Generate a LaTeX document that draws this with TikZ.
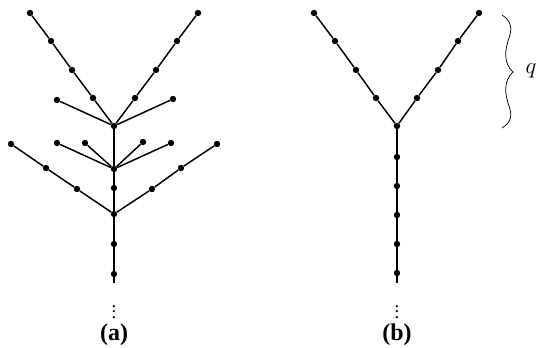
\documentclass[tikz,border=0pt]{standalone}
\usepackage{fontspec}
\setmainfont{Liberation Serif}
\begin{document}
\begin{tikzpicture}[x=0.75pt,y=-0.75pt,
  vtx/.style={circle,fill=black,inner sep=0pt,minimum size=4.8pt},
  edge/.style={line width=1.1pt},
  lbl/.style={font=\fontsize{18}{20}\selectfont\bfseries},
  brace/.style={line width=0.55pt},
  cont/.style={font=\fontsize{14}{16}\selectfont,inner sep=0pt}]
\useasboundingbox (0,0) rectangle (538,347);
% ---------- (a) ----------
\node[vtx] (ah1) at (114,126) {};
\node[vtx] (ah2) at (114,169) {};
\node[vtx] (am) at (114,188) {};
\node[vtx] (ah3) at (114,214) {};
\node[vtx] (ab1) at (114,244) {};
\node[vtx] (ab2) at (114,274) {};
\coordinate (aend) at (114,283);
% top-left arm
\node[vtx] (al1) at (30,13) {};
\node[vtx] (al2) at (51,41) {};
\node[vtx] (al3) at (72,70) {};
\node[vtx] (al4) at (93,98) {};
% top-right arm
\node[vtx] (ar1) at (198,13) {};
\node[vtx] (ar2) at (177,41) {};
\node[vtx] (ar3) at (156,70) {};
\node[vtx] (ar4) at (135,98) {};
% side leaves of ah1
\node[vtx] (as1) at (57,100) {};
\node[vtx] (as2) at (173,99) {};
% leaves of ah2
\node[vtx] (ac1) at (57,143) {};
\node[vtx] (ac2) at (85,143) {};
\node[vtx] (ac3) at (143,142) {};
\node[vtx] (ac4) at (171,143) {};
% arms of ah3
\node[vtx] (ad1) at (11,144) {};
\node[vtx] (ad2) at (46,168) {};
\node[vtx] (ad3) at (77,189) {};
\node[vtx] (ae1) at (217,144) {};
\node[vtx] (ae2) at (181,168) {};
\node[vtx] (ae3) at (152,189) {};
\draw[edge] (al1) -- (al2) -- (al3) -- (al4) -- (ah1);
\draw[edge] (ar1) -- (ar2) -- (ar3) -- (ar4) -- (ah1);
\draw[edge] (as1) -- (ah1);
\draw[edge] (as2) -- (ah1);
\draw[edge] (ah1) -- (ah2) -- (am) -- (ah3) -- (ab1) -- (ab2) -- (aend);
\draw[edge] (ac1) -- (ah2);
\draw[edge] (ac2) -- (ah2);
\draw[edge] (ac3) -- (ah2);
\draw[edge] (ac4) -- (ah2);
\draw[edge] (ad1) -- (ad2) -- (ad3) -- (ah3);
\draw[edge] (ae1) -- (ae2) -- (ae3) -- (ah3);
\node[cont] (adots) at (114,308) {$\vdots$};
\node[lbl] (alab) at (114,335) {(a)};
% ---------- (b) ----------
\node[vtx] (bh) at (397,126) {};
\node[vtx] (bl1) at (314,13) {};
\node[vtx] (bl2) at (335,41) {};
\node[vtx] (bl3) at (356,70) {};
\node[vtx] (bl4) at (376,98) {};
\node[vtx] (br1) at (479,13) {};
\node[vtx] (br2) at (458,41) {};
\node[vtx] (br3) at (438,70) {};
\node[vtx] (br4) at (417,98) {};
\node[vtx] (bb1) at (397,157) {};
\node[vtx] (bb2) at (397,186) {};
\node[vtx] (bb3) at (397,215) {};
\node[vtx] (bb4) at (397,244) {};
\node[vtx] (bb5) at (397,273) {};
\coordinate (bend) at (397,283);
\draw[edge] (bl1) -- (bl2) -- (bl3) -- (bl4) -- (bh);
\draw[edge] (br1) -- (br2) -- (br3) -- (br4) -- (bh);
\draw[edge] (bh) -- (bb1) -- (bb2) -- (bb3) -- (bb4) -- (bb5) -- (bend);
\node[cont] (bdots) at (397,308) {$\vdots$};
\node[lbl] (blab) at (397,335) {(b)};
% brace
\draw[brace] (502,15) .. controls (510,20) and (513,27) .. (509,38)
  .. controls (505,49) and (503,63) .. (513,72)
  .. controls (503,81) and (505,95) .. (509,106)
  .. controls (513,117) and (510,123) .. (502,128);
\node[font=\fontsize{17}{19}\selectfont] (q) at (531,71) {$q$};
\end{tikzpicture}
\end{document}
